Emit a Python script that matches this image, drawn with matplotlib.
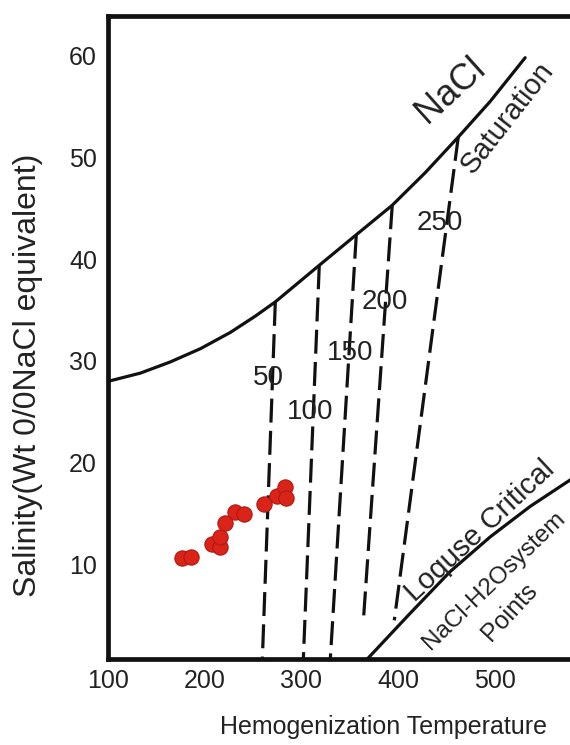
import matplotlib
matplotlib.use('Agg')
import matplotlib.pyplot as plt

plt.rcParams['font.family'] = ['Liberation Sans', 'DejaVu Sans']

# --- halite saturation curve (Th, salinity) ---
sat_T = [100.4, 133.5, 164.5, 195.6, 226.6, 252.4, 273.1, 318.6, 356.9, 394.1, 428.2, 462.4, 495.4, 531.6]
sat_S = [28.0, 28.8, 29.9, 31.2, 32.8, 34.4, 35.8, 39.4, 42.4, 45.3, 48.5, 52.0, 55.5, 59.8]

# --- critical curve ---
crit_T = [368.3, 412.7, 454.1, 495.4, 536.8, 578.2]
crit_S = [0.7, 5.2, 9.3, 12.7, 15.7, 18.3]

# --- dashed lines (top on the saturation curve, bottom end) ---
iso_labels = ['50', '100', '150', '200', '250']
iso_T_top = [273.1, 318.6, 356.9, 394.1, 462.4]
iso_S_top = [35.8, 39.4, 42.4, 45.3, 52.0]
iso_T_bot = [259.7, 302.1, 330.0, 364.1, 396.2]
iso_S_bot = [0.7, 0.7, 0.7, 4.3, 4.5]
iso_lab_T = [265.9, 309.3, 350.7, 386.9, 443.7]
iso_lab_S = [28.3, 25.0, 30.8, 35.8, 43.6]

# --- fluid inclusion samples ---
th = [176.6, 185.9, 207.7, 216.2, 216.2, 221.4, 231.7, 240.3, 261.0, 274.9, 283.5, 284.5]
sal = [10.6, 10.7, 12.0, 11.7, 12.7, 14.1, 15.1, 15.0, 15.9, 16.7, 17.6, 16.5]

x_ticks = [100, 200, 300, 400, 500]
y_ticks = [10, 20, 30, 40, 50, 60]

TXT = '#222222'

fig = plt.figure(figsize=(5.7, 7.45), dpi=100)
ax = fig.add_axes([108 / 570, 1 - 659 / 745, 1 - 108 / 570, (659 - 16) / 745])
ax.set_xlim(100, 578)
ax.set_ylim(0.7, 63.9)

for s in ['left', 'top', 'bottom']:
    ax.spines[s].set_linewidth(3.4)
    ax.spines[s].set_color('#111111')
ax.spines['right'].set_visible(False)

ax.set_xticks(x_ticks)
ax.set_yticks(y_ticks)
ax.tick_params(length=0, labelsize=18, labelcolor=TXT)
ax.tick_params(axis='x', pad=7)
ax.tick_params(axis='y', pad=8)

ax.plot(sat_T, sat_S, color='#111111', lw=2.3, solid_capstyle='round')
ax.plot(crit_T, crit_S, color='#111111', lw=2.3)

for i in range(len(iso_labels)):
    ax.plot([iso_T_top[i], iso_T_bot[i]], [iso_S_top[i], iso_S_bot[i]],
            color='#111111', lw=2.3, dashes=(7.5, 2.6))
    ax.text(iso_lab_T[i], iso_lab_S[i], iso_labels[i], fontsize=20, color=TXT,
            ha='center', va='center')

ax.plot(th, sal, 'o', ms=11, mfc='#db2419', mec='#b01812', mew=0.8, zorder=5)

ax.text(454.5, 56.6, 'NaCl', fontsize=26, color=TXT, rotation=42,
        ha='center', va='center', rotation_mode='anchor')
ax.text(513.0, 53.9, 'Saturation', fontsize=21, color=TXT, rotation=52,
        ha='center', va='center', rotation_mode='anchor')
ax.text(484.5, 13.3, 'Loquse Critical', fontsize=21, color=TXT, rotation=43,
        ha='center', va='center', rotation_mode='anchor')
ax.text(499.5, 8.4, 'NaCl-H2Osystem', fontsize=17.5, color=TXT, rotation=44,
        ha='center', va='center', rotation_mode='anchor')
ax.text(515.0, 5.3, 'Points', fontsize=18, color=TXT, rotation=47,
        ha='center', va='center', rotation_mode='anchor')

fig.text(384 / 570, 1 - 727 / 745, 'Hemogenization Temperature', fontsize=18,
         color=TXT, ha='center', va='center')
fig.text(28 / 570, 1 - 375 / 745, 'Salinity(Wt 0/0NaCl equivalent)', fontsize=23,
         color=TXT, ha='center', va='center', rotation=90)

fig.savefig('out.png', dpi=100)
